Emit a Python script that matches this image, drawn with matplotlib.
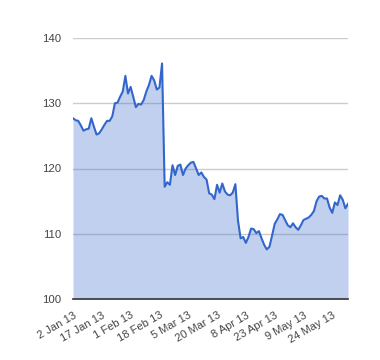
import matplotlib
matplotlib.use("Agg")
import matplotlib.pyplot as plt

# Daily closing values (UK trading days, 2 Jan 2013 .. early Jun 2013)
values = [
    127.7, 127.4, 127.3, 126.6, 125.8, 126.0, 126.1, 127.7, 126.4, 125.2,
    125.4, 126.0, 126.7, 127.3, 127.3, 128.0, 130.0, 130.1, 131.0, 131.8,
    134.2, 131.5, 132.5, 131.0, 129.4, 129.9, 129.8, 130.5, 131.8, 132.8,
    134.2, 133.5, 132.1, 132.4, 136.1, 117.2, 117.9, 117.5, 120.5, 119.0,
    120.4, 120.6, 119.0, 120.0, 120.5, 120.9, 121.0, 120.0, 119.0, 119.4,
    118.7, 118.3, 116.2, 116.0, 115.3, 117.5, 116.3, 117.7, 116.5, 116.0,
    115.9, 116.3, 117.6, 112.0, 109.3, 109.5, 108.6, 109.5, 110.8, 110.7,
    110.1, 110.4, 109.3, 108.3, 107.6, 108.0, 109.7, 111.5, 112.2, 113.0,
    112.9, 112.1, 111.3, 111.0, 111.6, 111.0, 110.6, 111.3, 112.1, 112.3,
    112.5, 112.9, 113.5, 115.0, 115.7, 115.8, 115.4, 115.4, 114.0, 113.2,
    114.8, 114.4, 115.9, 115.2, 113.9, 114.6,
]
tick_index = [0, 11, 22, 33, 44, 55, 66, 77, 88, 99]
tick_labels = ["2 Jan 13", "17 Jan 13", "1 Feb 13", "18 Feb 13", "5 Mar 13",
               "20 Mar 13", "8 Apr 13", "23 Apr 13", "9 May 13", "24 May 13"]
y_ticks = [100, 110, 120, 130, 140]

plt.rcParams['font.family'] = ['Liberation Sans', 'DejaVu Sans']

fig = plt.figure(figsize=(3.8, 3.6), dpi=100)
ax = fig.add_axes([73/380, 1 - 299/360, (348 - 73)/380, (299 - 38)/360])

x = list(range(len(values)))
for y in y_ticks[1:]:
    ax.axhline(y, color='#cccccc', lw=1, zorder=1)
ax.fill_between(x, values, 100, color='#3366cc', alpha=0.3, lw=0, zorder=2)
ax.plot(x, values, color='#3366cc', lw=1.5, zorder=3, solid_joinstyle='round')

ax.set_xlim(0, len(values) - 1)
ax.set_ylim(100, 140)
ax.set_yticks(y_ticks)
ax.set_yticklabels([str(v) for v in y_ticks])
ax.set_xticks(tick_index)
ax.set_xticklabels(tick_labels, rotation=30, ha='right', va='top',
                   rotation_mode='anchor')

for s in ['top', 'right', 'left']:
    ax.spines[s].set_visible(False)
ax.spines['bottom'].set_color('#333333')
ax.spines['bottom'].set_linewidth(1.2)
ax.spines['bottom'].set_zorder(4)
ax.tick_params(axis='y', length=0, pad=8.5, labelsize=8.2, labelcolor='#444444')
ax.tick_params(axis='x', length=0, pad=8, labelsize=8, labelcolor='#444444')

fig.savefig('out.png', dpi=100)
